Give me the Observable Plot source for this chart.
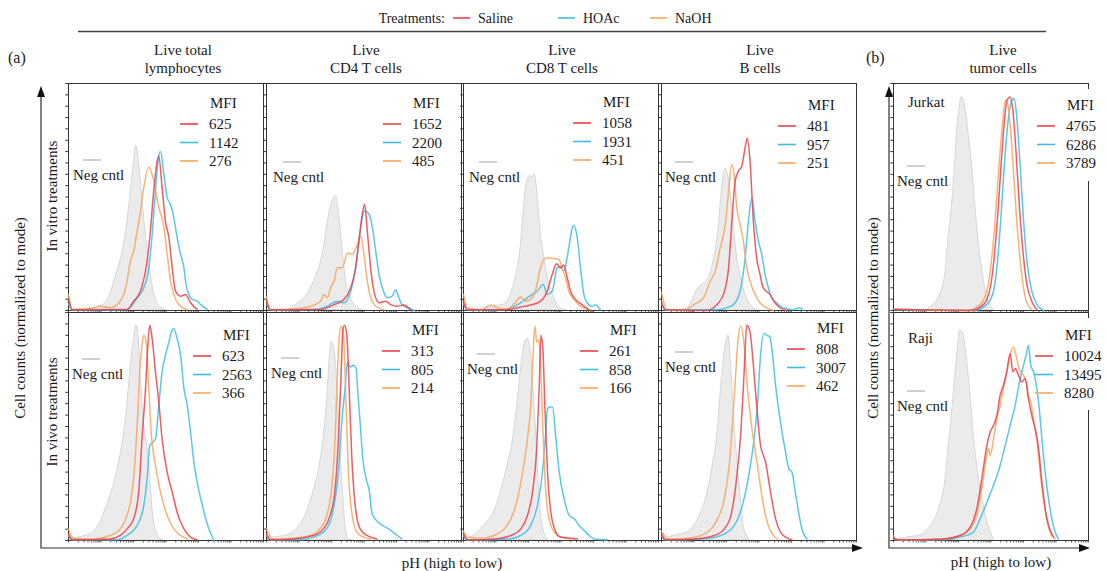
<!DOCTYPE html>
<html>
<head>
<meta charset="utf-8">
<script src="https://cdn.jsdelivr.net/npm/d3@7"></script>
<script src="https://cdn.jsdelivr.net/npm/@observablehq/plot@0.6"></script>
<style>
  body { margin: 0; background: #fff; }
  #fig { position: relative; width: 1106px; height: 571px; overflow: hidden; background: #fff; }
  #overlay { position: absolute; left: 0; top: 0; pointer-events: none; }
  #overlay text { font-family: "Liberation Serif", "Times New Roman", serif; fill: #1a1a1a; }
</style>
</head>
<body>
<div id="fig"></div>
<script>
// ---- Treatments and MFI values (one entry per panel: 4 in vitro, 4 in vivo, Jurkat, Raji)
const treatments = ["Saline", "HOAc", "NaOH"];
const treatmentColors = ["#e8424c", "#3fbde6", "#f5a75e"];
const mfiSaline = [625, 1652, 1058, 481, 623, 313, 261, 808, 4765, 10024];
const mfiHOAc   = [1142, 2200, 1931, 957, 2563, 805, 858, 3007, 6286, 13495];
const mfiNaOH   = [276, 485, 451, 251, 366, 214, 166, 462, 3789, 8280];

const columnTitles = [["Live total", "lymphocytes"], ["Live", "CD4 T cells"], ["Live", "CD8 T cells"], ["Live", "B cells"], ["Live", "tumor cells"]];
const rowLabels = ["In vitro treatments", "In vivo treatments"];
const tumorLines = ["Jurkat", "Raji"];

// ---- Histograms: [channel position (0-100 along the log axis), % of panel height]
// In vitro, live total lymphocytes
const vitroTotalNeg = [[6,0],[11.1,0.4],[14.6,1.5],[18,2.6],[21.4,7.1],[24,14.4],[27.4,24.7],[30,37.9],[32.6,57.1],[34.8,72.5],[36.9,58.5],[38.6,42.4],[41.2,21.8],[43.7,8.5],[47.2,1.2],[50.6,0]];
const vitroTotalSaline = [[0,5],[2,0.3],[30,0.4],[33.4,4.1],[36.9,8.5],[40.3,21.8],[42,35],[43.7,52.6],[45.5,65.9],[46.3,68.1],[48,54.1],[49.7,39.4],[51.5,32.1],[53.2,18.8],[54.9,8.5],[57.5,6.3],[60,7.1],[62.6,3.4],[66,0.4]];
const vitroTotalHOAc = [[0,3],[2,0.2],[30,0.3],[35.2,5.6],[38.6,10],[41.2,18.8],[42.9,33.5],[44.6,52.6],[46.3,68.1],[47.2,70],[48.9,60],[50.6,49.7],[52.3,46.8],[54,41],[55.7,32.1],[57.5,24.7],[59.2,18.8],[60,13],[61.7,7.1],[63.5,4.9],[66,4.1],[67.8,2.6],[71.2,0.4]];
const vitroTotalNaOH = [[0,7],[2,0.5],[12.9,1.2],[16.3,1.9],[21.4,1.2],[24.9,2.6],[28.3,7.1],[30,12.9],[31.7,21.8],[33.4,26],[35.2,35],[36.9,43.8],[38.6,54.1],[41.2,63.2],[43.7,57.1],[46.3,45.6],[48.9,36.8],[50.6,25],[52.3,13.2],[54,7.1],[56.6,2.6],[60.9,0.3]];
// In vitro, live CD4 T cells
const vitroCD4Neg = [[10.8,0],[14.2,1.9],[17.6,4.1],[21,7.1],[24.4,12.9],[27,18.8],[29.5,27.6],[31.2,37.9],[32.9,45.3],[35.5,50.4],[37.2,42.4],[38.9,27.6],[40.6,14.4],[43.2,5.6],[46.6,1.2],[50,0]];
const vitroCD4Saline = [[0,4],[2,0.3],[27.8,0.4],[34.6,2.6],[39.8,4.9],[43.2,10],[45.7,18.8],[47.4,30.6],[49.1,42.4],[50.3,46.8],[51.7,35],[53.4,18.8],[55.1,8.5],[57.7,3.4],[61.1,4.1],[63.7,2.6],[67.1,1.9],[70.5,2.4],[73.9,0.3]];
const vitroCD4HOAc = [[0,3],[2,0.2],[24.4,0.4],[31.2,1.9],[36.3,4.1],[39.8,3.4],[43.2,8.5],[45.7,18.8],[48.3,36.5],[50.3,43.8],[52.6,42.4],[54.3,36.5],[56,26.2],[57.7,15.9],[59.4,10],[61.9,5.6],[64.5,6.3],[66.2,9.1],[67.9,5.6],[69.6,2.4],[72.2,1.2],[75.6,0.1]];
const vitroCD4NaOH = [[0,6],[2,0.4],[5.6,0.4],[14.2,0.7],[22.7,1.9],[27.8,4.1],[29.5,7.1],[31.2,5.6],[32.9,10],[34.6,12.9],[36.3,18.8],[38.9,18.8],[41.5,25.3],[44,24.7],[46.6,29.1],[48.3,32.8],[50,24.7],[51.7,12.9],[53.4,5.6],[56,1.9],[60.2,0.3]];
// In vitro, live CD8 T cells
const vitroCD8Neg = [[8.9,0],[15.7,1.9],[20.8,2.6],[24.2,7.1],[26.7,14.4],[29.3,27.6],[31,45.3],[32.7,57.1],[34.4,59.3],[35.3,58.5],[36.5,60],[37.8,52.6],[39.5,35],[41.2,24.7],[42.9,15.9],[44.6,10],[47.2,4.1],[49.7,0.9],[53.2,0]];
const vitroCD8Saline = [[0,4],[2,0.3],[20.8,0.3],[29.3,1.5],[34.4,2.4],[39.5,4.1],[42.9,8.5],[45.5,15.9],[47.7,20.6],[49.7,18.8],[51.4,20],[53.2,14.4],[54.9,8.5],[57.4,4.9],[60.8,2.6],[64.2,0.3]];
const vitroCD8HOAc = [[0,3],[2,0.2],[20.8,0.3],[24.2,1.2],[29.3,3.4],[32.7,5.6],[35.3,7.1],[37.8,8.5],[40.9,11.5],[42.9,7.1],[45.5,8.5],[48,18.8],[49.7,19.4],[51.4,17.4],[54,27.6],[55.4,35],[56.6,37.6],[58.3,32.1],[60,18.8],[61.7,7.1],[63.4,3.4],[65.9,1.9],[67.6,2.4],[70.2,0.3]];
const vitroCD8NaOH = [[0,7],[2,1.2],[8.9,0.3],[14,2.4],[17.4,1.2],[22.5,0.6],[25.9,2.9],[29.3,5.9],[31.9,4.1],[34.4,4.9],[37,9.1],[39.5,18.8],[41.2,22.5],[42.9,23.2],[46.3,22.9],[48.9,22.5],[50.6,18.8],[52.3,14.4],[54,8.5],[56.6,4.9],[59.1,2.6],[61.7,1.2],[65.1,0.3]];
// In vitro, live B cells
const vitroBNeg = [[13.1,0],[16.5,5.6],[19,10],[23.3,12.9],[26.7,21.8],[29.3,36.5],[30.9,52.6],[32.7,62.6],[35.2,54.1],[36.9,39.4],[38.6,24.7],[41.2,12.9],[43.7,5.6],[47.1,1.2],[50.5,0]];
const vitroBSaline = [[0,4],[2,0.3],[23.3,0],[28.4,2.6],[31.8,7.1],[34.4,18.8],[36.1,39.4],[37.8,57.1],[39.5,61.5],[41.2,63.7],[42.9,71.8],[44,75.9],[45.4,65.9],[47.1,39.4],[48.8,23.2],[50.5,15.9],[52.2,10],[55.6,7.1],[58.2,3.4],[60.7,1.2],[64.1,0]];
const vitroBHOAc = [[0,3],[2,0.2],[28.4,0.3],[33.5,1.2],[36.9,2.6],[40.3,8.5],[42.9,23.2],[44.6,39.4],[46.3,49.7],[48,39.4],[49.7,30.6],[51.4,24.7],[53.1,15.9],[54.8,10],[56.5,5.6],[59,3.4],[62.4,1.2],[67.5,0.3],[70.9,1.2],[72.6,0]];
const vitroBNaOH = [[0,8],[2.9,0.3],[13.1,0.7],[16.5,2.6],[21.6,5.6],[25,12.9],[27.6,17.4],[30.1,27.6],[32.7,37.9],[34.4,52.6],[36.1,64.4],[37.2,60],[38.6,45.3],[40.3,38],[42,30.6],[43.7,18.8],[45.4,12.9],[48,7.1],[50.5,3.4],[53.9,1.2],[57.3,0.1]];
// In vivo, live total lymphocytes
const vivoTotalNeg = [[0.9,0.7],[6,1.5],[9.4,2.2],[12.9,3.7],[16.3,8.1],[19.7,15.4],[23.2,24.2],[26.6,37.3],[29.2,52],[30.9,66.6],[32.1,78.3],[33.4,87.1],[34.8,94.4],[36,88.6],[36.9,73.9],[38.6,52],[40.3,41.7],[41.7,30],[42.9,15.4],[44.6,5.1],[47.2,0.7],[48.9,0]];
const vivoTotalSaline = [[0,3],[2,0.3],[21.4,0.7],[26.6,2.2],[30,5.1],[33.4,9.5],[36,21.2],[37.7,44.6],[39.5,66.6],[40.7,85.6],[41.7,94.4],[42.9,88.6],[44.6,74],[46.3,60.8],[48,44.6],[50.6,30],[53.2,21.2],[55.7,12.4],[59.2,5.1],[62.6,1.5],[66,0.3]];
const vivoTotalHOAc = [[0,2],[2,0.2],[24.9,0.3],[30,2.2],[35.2,6.6],[38.6,15.4],[40.3,27.1],[41.7,41.7],[43.4,43.2],[44.6,44.6],[46.3,59.3],[48,73.9],[49.7,81.3],[51.5,87.1],[52.8,91.5],[54,93],[55.7,88.6],[57.5,81.3],[59.2,66.6],[60.9,59.3],[62.6,47.6],[64.3,34.4],[66,25.6],[67.8,18.3],[69.5,12.4],[72,5.1],[74.6,0]];
const vivoTotalNaOH = [[0,5],[2.6,1],[12.9,0.7],[21.4,2.2],[26.6,5.1],[30,11],[32.6,21.2],[34.3,37.3],[35.5,54.9],[36.5,73.9],[37.7,85.6],[38.6,90],[40,85.6],[41.2,66.6],[42.4,47.6],[44.6,33],[47.2,21.2],[50.6,11],[54,5.1],[57.5,2.2],[60.9,0.7]];
// In vivo, live CD4 T cells
const vivoCD4Neg = [[0.9,0.7],[5.1,1.5],[10.3,2.2],[13.7,3.7],[17.2,6.6],[20.6,12.4],[24,21.2],[26.6,30],[29.2,44.6],[30.9,59.3],[32.6,81.3],[33.4,87.1],[35.2,81.3],[36.4,66.6],[37.7,44.6],[39.1,22.7],[40.3,8.1],[42,0.7],[44.6,0]];
const vivoCD4Saline = [[0,3],[2,0.3],[13.7,0.7],[24,2.2],[29.2,5.1],[32.6,11],[35.2,22.7],[36.9,44.6],[38.3,73.9],[39.1,91.5],[40,94.4],[41.2,90],[42.4,66.6],[43.7,37.3],[45.5,15.4],[48,5.1],[51.5,2.2],[56.6,0.7]];
const vivoCD4HOAc = [[0,2],[2,0.2],[17.2,0.3],[24,1.5],[29.2,3.7],[32.6,8.1],[35.2,18.3],[36.9,30],[38.6,52],[40.3,66.6],[41.5,78.3],[42.9,76.1],[44.6,76.9],[46,75.4],[46.8,65.2],[48,52],[49.4,35.9],[51.1,27.1],[52.8,21.2],[54,12.4],[55.7,9.5],[58.3,7.3],[62.6,5.1],[66,2.9],[69.5,0.7]];
const vivoCD4NaOH = [[0,5],[3.4,0.7],[13.7,1],[22.3,2.2],[27.4,5.1],[30.9,11],[33.4,22.7],[35.2,44.6],[36.4,73.9],[37.4,90],[38.3,94.1],[39.5,90],[40.8,59.3],[42,30],[43.7,12.4],[46.3,3.7],[49.7,1.5],[53.2,0.7]];
// In vivo, live CD8 T cells
const vivoCD8Neg = [[1.2,0.7],[5.5,2.2],[8.9,5.1],[12.3,8.1],[15.7,12.4],[19.1,21.2],[22.6,32.9],[26,47.6],[28.5,66.6],[31.1,85.6],[32.8,88.6],[34.5,82.7],[35.9,66.6],[37.6,41.7],[38.8,21.2],[40.5,6.6],[43.1,0.7]];
const vivoCD8Saline = [[0,3],[2,0.3],[15.7,0.7],[24.3,2.2],[29.4,5.1],[32.8,11],[35.4,21.2],[37.6,41.7],[38.8,66.6],[39.7,90],[40.7,84.2],[41.7,59.3],[43.1,30],[44.8,12.4],[47.4,3.7],[49.9,1.5],[58.5,0.7]];
const vivoCD8HOAc = [[0,2],[2,0.2],[22.6,0.7],[29.4,2.2],[34.5,6.6],[37.9,15.4],[40.5,30],[42.2,47.6],[43.1,57.8],[44.4,58.6],[45.6,58.6],[47.4,44.6],[49.1,30],[51.6,18.3],[54.2,11],[56.8,9.5],[59.3,6.6],[61.9,4.4],[64.4,2.2],[67,0.7],[73.8,0.3]];
const vivoCD8NaOH = [[0,4],[2.1,1.5],[8.9,1],[15.7,2.2],[20.9,5.1],[24.3,9.5],[27.7,18.3],[30.3,30],[32.8,44.6],[34.5,59.3],[35.9,85.6],[36.6,94.1],[37.6,87.1],[38.6,87.8],[39.7,73.9],[40.9,44.6],[42.2,21.2],[43.9,9.5],[46.5,3.7],[49.9,1.5],[55,0.7]];
// In vivo, live B cells
const vivoBNeg = [[1.7,0.7],[6.8,2.2],[13.6,3.7],[16.9,6.6],[20.3,12.4],[23.7,21.2],[26.3,32.9],[28.8,47.6],[30.5,66.6],[32.2,81.3],[34.4,90],[35.9,73.9],[37.3,52],[39,34.4],[40.7,18.3],[42.4,5.1],[44.9,0.7]];
const vivoBSaline = [[0,3],[2,0.3],[16.9,0.7],[27.1,2.2],[32.2,5.1],[35.6,11],[38.1,24.2],[40.7,47.6],[42.4,73.9],[43.7,94.4],[45.4,91.5],[47.1,76.9],[48.8,59.3],[50.8,41.7],[53.4,34.4],[55.9,21.2],[58.5,9.5],[61,3.7],[63.6,1.5],[66.9,0.3]];
const vivoBHOAc = [[0,2],[2,0.2],[20.3,0.7],[30.5,2.2],[37.3,6.6],[41.5,15.4],[44.1,25.6],[46.6,38.8],[49.2,59.3],[50.8,81.3],[52.5,90.8],[53.9,90],[55.6,89.3],[56.8,82.7],[58.5,68.1],[61,52],[63.6,38.8],[65.3,31.5],[66.9,30],[68.6,21.2],[70.3,12.4],[72,5.1],[74.6,0.7]];
const vivoBNaOH = [[0,4],[3.4,0.7],[13.6,1],[20.3,2.2],[25.4,5.1],[28.8,9.5],[32.2,18.3],[34.7,32.9],[36.4,51.2],[38.1,73.9],[39.3,88.6],[40.7,94.1],[42.4,85.6],[44.1,66.6],[46.6,47.6],[49.2,33],[51.7,18.3],[54.2,8.1],[56.8,2.9],[59.3,0.7]];
// Live tumor cells, Jurkat
const jurkatNeg = [[17.1,0],[20.5,2.7],[23.9,7.1],[26.5,15.9],[28.2,32],[29.9,45.3],[31.6,64.5],[32.5,77.9],[33.8,88.2],[35,94.1],[36.8,89.7],[38.5,77.9],[40.2,64.6],[41.9,46.9],[43.6,30.7],[45.3,18.9],[47,10],[48.7,4.1],[51.3,0.4]];
const jurkatSaline = [[0,0.5],[39.3,0],[46.2,2.7],[49.6,10],[51.8,24.8],[53.5,42.5],[55.2,64.6],[56.9,83.8],[58.1,92.6],[59.8,94.1],[61.2,88.2],[62.9,69],[64.6,45.4],[66.7,23.3],[68.4,11.5],[70.9,4.1],[73.5,0.4]];
const jurkatHOAc = [[0,0.3],[41,0],[47.9,2.7],[51.3,8.6],[53.5,23.3],[55.2,42.5],[56.9,64.6],[59,85.3],[60.7,92.6],[61.9,93.4],[63.2,85.3],[65,63.1],[66.7,39.5],[68.4,21.8],[70.9,8.6],[73.5,2.7],[76.9,0]];
const jurkatNaOH = [[0,0.5],[37.6,0],[44.4,2.7],[47.9,8.6],[50.4,23.3],[52.1,39.5],[53.8,60.2],[55.6,79.4],[57.3,92.6],[58.5,91.2],[59.8,82.3],[61.5,61.7],[63.2,39.5],[65,21.8],[66.7,10],[68.4,3.4],[70.9,0.4]];
// Live tumor cells, Raji
const rajiNeg = [[1.7,0.7],[8.5,1.5],[13.7,2.2],[17.1,4.4],[20.5,8.1],[23.9,15.4],[26.5,25.6],[28.2,40.3],[29.9,54.9],[31.6,71],[33,84.2],[34.2,92.2],[35.9,90],[37.6,79.8],[39.3,65.2],[41,47.6],[43.6,28.6],[46.2,15.4],[48.7,6.6],[51.3,0.7]];
const rajiSaline = [[0,1],[2,0.3],[25.6,0.7],[34.2,2.2],[39.3,5.9],[42.7,13.9],[45.3,27.1],[47.9,41.7],[49.6,47.6],[51.3,50.5],[53,54.9],[54.7,63.7],[56.4,68.1],[58.1,73.9],[59.8,82],[61.2,73.9],[62.4,75.4],[64.1,72.5],[65.8,69.5],[67.5,71],[69.2,62.2],[70.9,54.9],[72.6,49.1],[74.4,40.3],[76.1,25.6],[77.8,13.9],[79.5,6.6],[82.1,1.5]];
const rajiHOAc = [[0,0.5],[2,0.2],[25.6,0.3],[34.2,1.5],[41,3.7],[44.4,9.5],[47.9,16.8],[51.3,24.2],[54.7,32.9],[57.3,41.7],[59.8,50.5],[62.4,59.3],[64.6,69.5],[66.7,76.9],[68,81.3],[69.2,85.6],[70.4,76.9],[71.8,74],[73,69.5],[74.4,60.8],[76.1,44.6],[77.8,30],[79.5,18.3],[81.2,9.5],[82.9,3.7],[84.6,0.7]];
const rajiNaOH = [[0,2],[2,0.3],[8.5,0.3],[25.6,0.7],[34.2,2.2],[39.3,5.1],[42.7,11],[45.3,22.7],[47,33],[48.7,40.3],[49.6,37.3],[51.3,44.6],[53,53.4],[54.7,59.3],[56.4,66.6],[58.1,73.9],[59.8,81.3],[61.5,84.9],[63.2,79.8],[65,73.9],[66.7,72.5],[68.4,68.1],[69.2,63.7],[70.4,60.8],[71.8,53.4],[73.5,44.6],[75.2,30],[76.9,18.3],[78.6,9.5],[80.3,3.7],[82.9,0.7]];

// ---- Layout
const W = 1106, H = 571;
const panelW = 195;
const colLeft = [68, 266, 463, 661, 893];
const rowTop = [83, 312];
const rowH = [227, 228];

// panel: column, row, histograms, MFI legend anchor [dx, dy], neg-control anchor [dx, dy]
const panels = [
  {col: 0, row: 0, hist: [vitroTotalNeg, vitroTotalSaline, vitroTotalHOAc, vitroTotalNaOH], mfi: [142, 20], neg: [15, 77]},
  {col: 1, row: 0, hist: [vitroCD4Neg, vitroCD4Saline, vitroCD4HOAc, vitroCD4NaOH], mfi: [147, 20], neg: [17, 79]},
  {col: 2, row: 0, hist: [vitroCD8Neg, vitroCD8Saline, vitroCD8HOAc, vitroCD8NaOH], mfi: [140, 19], neg: [16, 79]},
  {col: 3, row: 0, hist: [vitroBNeg, vitroBSaline, vitroBHOAc, vitroBNaOH], mfi: [147, 22], neg: [14, 79]},
  {col: 0, row: 1, hist: [vivoTotalNeg, vivoTotalSaline, vivoTotalHOAc, vivoTotalNaOH], mfi: [155, 23], neg: [14, 47]},
  {col: 1, row: 1, hist: [vivoCD4Neg, vivoCD4Saline, vivoCD4HOAc, vivoCD4NaOH], mfi: [146, 18], neg: [15, 46]},
  {col: 2, row: 1, hist: [vivoCD8Neg, vivoCD8Saline, vivoCD8HOAc, vivoCD8NaOH], mfi: [147, 18], neg: [14, 42]},
  {col: 3, row: 1, hist: [vivoBNeg, vivoBSaline, vivoBHOAc, vivoBNaOH], mfi: [156, 16], neg: [14, 40]},
  {col: 4, row: 0, hist: [jurkatNeg, jurkatSaline, jurkatHOAc, jurkatNaOH], mfi: [174, 22], neg: [14, 83], cells: 0},
  {col: 4, row: 1, hist: [rajiNeg, rajiSaline, rajiHOAc, rajiNaOH], mfi: [172, 23], neg: [14, 79], cells: 1}
];

// log-axis ticks: six decades across the panel, minor ticks at 2..9
const xTicks = d3.range(6).flatMap(d => d3.range(1, 10).map(k => (d + Math.log10(k)) / 6 * 100)).concat([100]);
const yTicks = d3.range(0, 100.1, 5);

const fig = document.getElementById("fig");
const drawOrder = ["HOAc", "NaOH", "Saline"];

panels.forEach((p, i) => {
  const [neg, ...curves] = p.hist;
  const rows = drawOrder.flatMap(t => {
    const k = treatments.indexOf(t);
    return curves[k].map(([x, y]) => ({x, y, treatment: t}));
  });
  const h = rowH[p.row];
  const svg = Plot.plot({
    width: panelW, height: h,
    marginTop: 0, marginRight: 0, marginBottom: 0, marginLeft: 0,
    x: {domain: [0, 100], axis: null},
    y: {domain: [0, 100], axis: null},
    color: {type: "ordinal", domain: treatments, range: treatmentColors},
    marks: [
      Plot.areaY(neg, {x: d => d[0], y: d => d[1], fill: "#ebebeb", stroke: "#d7d7d7", strokeWidth: 1, curve: "monotone-x"}),
      Plot.frame({stroke: "#333", strokeWidth: 1}),
      Plot.ruleX(xTicks, {x: d => d, y1: 0, y2: -1.1, stroke: "#333", strokeWidth: 0.8}),
      Plot.ruleY(yTicks, {y: d => d, x1: 0, x2: -1.4, stroke: "#333", strokeWidth: 1}),
      Plot.line(rows, {x: "x", y: "y", z: "treatment", stroke: "treatment", strokeWidth: 1.5, strokeOpacity: 0.85, curve: "monotone-x"})
    ]
  });
  Object.assign(svg.style, {
    position: "absolute",
    left: colLeft[p.col] + "px",
    top: rowTop[p.row] + "px",
    overflow: "visible",
    background: "none",
    maxWidth: "none"
  });
  fig.appendChild(svg);
});

// ---- Annotations, axis arrows and legends
const ov = d3.select(fig).append("svg").attr("id", "overlay").attr("width", W).attr("height", H);
const txt = (x, y, s, size, anchor = "start") =>
  ov.append("text").attr("x", x).attr("y", y).attr("dominant-baseline", "central")
    .attr("text-anchor", anchor).attr("font-size", size).text(s);

// treatments key
txt(445, 18, "Treatments:", 14, "end");
const keyX = [453, 558, 650];
treatments.forEach((t, k) => {
  ov.append("line").attr("x1", keyX[k]).attr("x2", keyX[k] + 17).attr("y1", 18).attr("y2", 18)
    .attr("stroke", treatmentColors[k]).attr("stroke-width", 1.6);
  txt(keyX[k] + 25, 18, t, 14);
});
ov.append("line").attr("x1", 78).attr("x2", 1046).attr("y1", 31.5).attr("y2", 31.5).attr("stroke", "#444").attr("stroke-width", 1.3);

txt(8, 57, "(a)", 16);
txt(866, 57, "(b)", 16);

const titleX = [183, 366, 562, 760, 1003];
columnTitles.forEach((lines, c) => {
  txt(titleX[c], 50, lines[0], 15, "middle");
  txt(titleX[c], 68, lines[1], 15, "middle");
});

// axis arrows
function arrowAxes(x0, yTop, yBase, xEnd) {
  ov.append("path").attr("d", `M${x0},${yTop + 9}V${yBase}H${xEnd - 9}`)
    .attr("fill", "none").attr("stroke", "#333").attr("stroke-width", 1.2);
  ov.append("path").attr("d", `M${x0},${yTop}L${x0 - 4},${yTop + 11}L${x0 + 4},${yTop + 11}Z`).attr("fill", "#111");
  ov.append("path").attr("d", `M${xEnd},${yBase}L${xEnd - 11},${yBase - 4}L${xEnd - 11},${yBase + 4}Z`).attr("fill", "#111");
}
arrowAxes(41, 86, 548, 863);
arrowAxes(889, 86, 548, 1090);

txt(452, 563, "pH (high to low)", 15, "middle");
txt(1001, 562, "pH (high to low)", 15, "middle");

const rot = (x, y, s) => txt(0, 0, s, 15, "middle").attr("transform", `translate(${x},${y}) rotate(-90)`);
rot(20, 318, "Cell counts (normalized to mode)");
rot(873, 318, "Cell counts (normalized to mode)");
rot(52, 196, rowLabels[0]);
rot(52, 412, rowLabels[1]);

// per-panel MFI legends and negative-control keys
panels.forEach((p, i) => {
  const left = colLeft[p.col], top = rowTop[p.row];
  const mx = left + p.mfi[0], my = top + p.mfi[1];
  if (p.cells !== undefined) {
    // the key sits over the panel's right edge, hiding that part of the frame
    ov.append("rect").attr("x", left + panelW - 8).attr("y", top + 6).attr("width", 16).attr("height", 92).attr("fill", "#fff");
    txt(left + 15, top + (p.cells ? 26 : 19), tumorLines[p.cells], 15);
  }
  txt(mx, my, "MFI", 15);
  const vals = [mfiSaline[i], mfiHOAc[i], mfiNaOH[i]];
  vals.forEach((v, k) => {
    const y = my + 21 + k * 18.5;
    ov.append("line").attr("x1", mx - 30).attr("x2", mx - 12).attr("y1", y).attr("y2", y)
      .attr("stroke", treatmentColors[k]).attr("stroke-width", 1.6);
    txt(mx - 1, y, String(v), 15);
  });
  const nx = left + p.neg[0], ny = top + p.neg[1];
  ov.append("line").attr("x1", nx).attr("x2", nx + 18).attr("y1", ny).attr("y2", ny).attr("stroke", "#cbcbcb").attr("stroke-width", 1.8);
  txt(nx - 10, ny + 15, "Neg cntl", 15);
});
</script>
</body>
</html>
